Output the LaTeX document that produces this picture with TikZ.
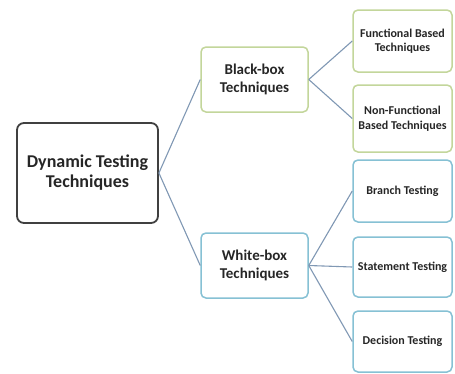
\documentclass[tikz,border=0pt]{standalone}
\usepackage{fontspec}
\setmainfont{Carlito}
\definecolor{greenb}{HTML}{C3D69B}
\definecolor{blueb}{HTML}{86C1D4}
\definecolor{linec}{HTML}{8098B4}
\definecolor{txt}{HTML}{262626}
\begin{document}
\begin{tikzpicture}[x=1pt,y=-1pt,
  box/.style={draw, rounded corners=5pt, line width=1.5pt, fill=white, align=center, inner sep=0pt, text=txt, font=\bfseries},
  rootbox/.style={box, draw=black!75, line width=1.8pt, rounded corners=7pt, font=\bfseries\fontsize{18}{20}\selectfont},
  midg/.style={box, draw=greenb, font=\bfseries\fontsize{15}{18}\selectfont},
  midb/.style={box, draw=blueb, font=\bfseries\fontsize{15}{18}\selectfont},
  leafg/.style={box, draw=greenb, minimum width=99pt, font=\bfseries\fontsize{12}{14.5}\selectfont},
  leafb/.style={box, draw=blueb, minimum width=99pt, font=\bfseries\fontsize{12}{14.5}\selectfont},
  conn/.style={draw=linec, line width=1.1pt}]
\path[use as bounding box, fill=white] (0,0) rectangle (455,373);
\node[rootbox, minimum width=141pt, minimum height=100pt] (root) at (87.5,173) {Dynamic Testing\\Techniques};
\node[midg, minimum width=107pt, minimum height=65pt] (bb) at (254.5,79.5) {Black-box\\Techniques};
\node[midb, minimum width=107pt, minimum height=65pt] (wb) at (254.5,265.5) {White-box\\Techniques};
\node[leafg, minimum height=62pt] (fb) at (402.5,41) {Functional Based\\Techniques};
\node[leafg, minimum height=67pt] (nf) at (402.5,118.5) {Non-Functional\\Based Techniques};
\node[leafb, minimum height=62pt] (br) at (402.5,191) {Branch Testing};
\node[leafb, minimum height=60pt] (st) at (402.5,267) {Statement Testing};
\node[leafb, minimum height=61pt] (de) at (402.5,341.5) {Decision Testing};
\draw[conn] (root.east) -- (bb.west);
\draw[conn] (root.east) -- (wb.west);
\draw[conn] (bb.east) -- (fb.west);
\draw[conn] (bb.east) -- (nf.west);
\draw[conn] (wb.east) -- (br.west);
\draw[conn] (wb.east) -- (st.west);
\draw[conn] (wb.east) -- (de.west);
\end{tikzpicture}
\end{document}
